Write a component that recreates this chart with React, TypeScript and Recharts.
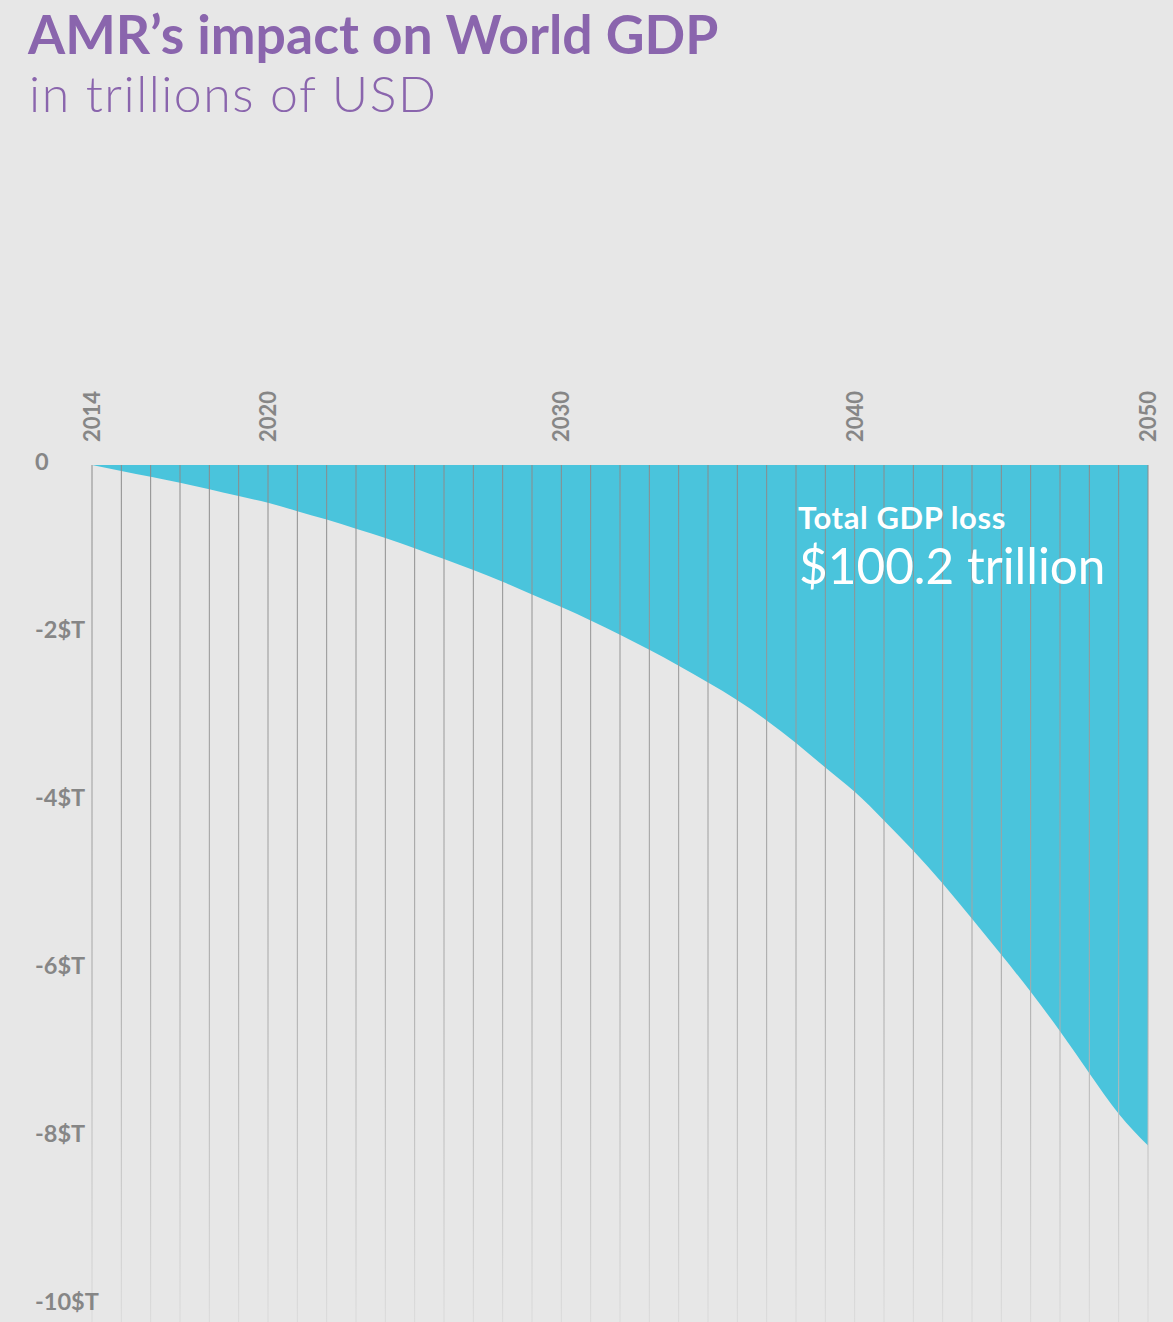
import React from "react";
import { AreaChart, Area, XAxis, YAxis, ReferenceLine } from "recharts";

const YEARS = [
  2014, 2015, 2016, 2017, 2018, 2019, 2020, 2021, 2022, 2023, 2024, 2025, 2026,
  2027, 2028, 2029, 2030, 2031, 2032, 2033, 2034, 2035, 2036, 2037, 2038, 2039,
  2040, 2041, 2042, 2043, 2044, 2045, 2046, 2047, 2048, 2049, 2050,
];
const GDP_LOSS = [
  0, -0.07, -0.14, -0.21, -0.29, -0.37, -0.45, -0.55, -0.65, -0.76, -0.87,
  -0.99, -1.12, -1.25, -1.39, -1.54, -1.69, -1.85, -2.02, -2.2, -2.39, -2.59,
  -2.8, -3.04, -3.31, -3.6, -3.89, -4.23, -4.59, -4.98, -5.4, -5.83, -6.27,
  -6.74, -7.24, -7.72, -8.1,
];
const X_LABELED = [2014, 2020, 2030, 2040, 2050];
const Y_TICKS = [0, -2, -4, -6, -8, -10];
const Y_LABELS = ["0", "-2$T", "-4$T", "-6$T", "-8$T", "-10$T"];

const TITLE = "AMR\u2019s impact on World GDP";
const SUBTITLE = "in trillions of USD";
const NOTE_1 = "Total GDP loss";
const NOTE_2 = "$100.2 trillion";

const data = YEARS.map((year, i) => ({ year, loss: GDP_LOSS[i] }));

const FONT = "Lato, 'Open Sans', sans-serif";
const PURPLE = "#8a65ad";
const CYAN = "#4ac4dc";
const AXIS_GRAY = "#868686";

const XTick = (props: any) => {
  const { x, y, payload } = props;
  if (!X_LABELED.includes(payload.value)) return <g />;
  const tx = x + 8;
  const ty = y - 23;
  return (
    <text
      x={tx}
      y={ty}
      transform={`rotate(-90 ${tx} ${ty})`}
      textAnchor="start"
      fontFamily={FONT}
      fontWeight={700}
      fontSize={22}
      fill={AXIS_GRAY}
    >
      {payload.value}
    </text>
  );
};

const YTick = (props: any) => {
  const { y, payload } = props;
  const idx = Y_TICKS.indexOf(payload.value);
  return (
    <text
      x={35}
      y={y + 5}
      textAnchor="start"
      fontFamily={FONT}
      fontWeight={700}
      fontSize={23.5}
      fill={AXIS_GRAY}
    >
      {idx >= 0 ? Y_LABELS[idx] : ""}
    </text>
  );
};

export default function App() {
  return (
    <div
      style={{
        position: "absolute",
        left: 0,
        top: 0,
        width: 1173,
        height: 1322,
        background: "#e7e7e7",
        overflow: "hidden",
      }}
    >
      <svg width={0} height={0} style={{ position: "absolute" }}>
        <defs>
          <linearGradient
            id="gridFade"
            gradientUnits="userSpaceOnUse"
            x1={0}
            y1={465}
            x2={0}
            y2={1322}
          >
            <stop offset="0%" stopColor="#8a8a8a" />
            <stop offset="60%" stopColor="#a8a8a8" />
            <stop offset="100%" stopColor="#dadada" />
          </linearGradient>
        </defs>
      </svg>
      <div style={{ position: "absolute", left: 0, top: 0 }}>
        <AreaChart
          width={1173}
          height={1322}
          data={data}
          margin={{ top: 0, right: 25, bottom: 0, left: 0 }}
        >
          <XAxis
            dataKey="year"
            type="number"
            domain={[2014, 2050]}
            ticks={YEARS}
            interval={0}
            orientation="top"
            height={465}
            axisLine={false}
            tickLine={false}
            tickSize={0}
            tickMargin={0}
            tick={<XTick />}
          />
          <YAxis
            type="number"
            domain={[-10.2, 0]}
            ticks={Y_TICKS}
            interval={0}
            width={92}
            axisLine={false}
            tickLine={false}
            tick={<YTick />}
          />
          <Area
            type="natural"
            dataKey="loss"
            baseValue={0}
            stroke="none"
            fill={CYAN}
            fillOpacity={1}
            isAnimationActive={false}
          />
          {YEARS.map((yr) => (
            <ReferenceLine
              key={yr}
              x={yr}
              stroke="url(#gridFade)"
              strokeWidth={1}
            />
          ))}
        </AreaChart>
      </div>
      <svg
        width={1173}
        height={1322}
        style={{ position: "absolute", left: 0, top: 0, pointerEvents: "none" }}
      >
        <text x={28} y={54} fontFamily={FONT} fontWeight={700} fontSize={53.5} fill={PURPLE}>
          {TITLE}
        </text>
        <text
          x={29}
          y={112}
          fontFamily={FONT}
          fontWeight={300}
          fontSize={50}
          letterSpacing={1.5}
          fill={PURPLE}
        >
          {SUBTITLE}
        </text>
        <text
          x={798}
          y={529}
          fontFamily={FONT}
          fontWeight={700}
          fontSize={31}
          letterSpacing={0.6}
          fill="#ffffff"
        >
          {NOTE_1}
        </text>
        <text x={799} y={584} fontFamily={FONT} fontWeight={400} fontSize={49.5} fill="#ffffff">
          {NOTE_2}
        </text>
      </svg>
    </div>
  );
}
